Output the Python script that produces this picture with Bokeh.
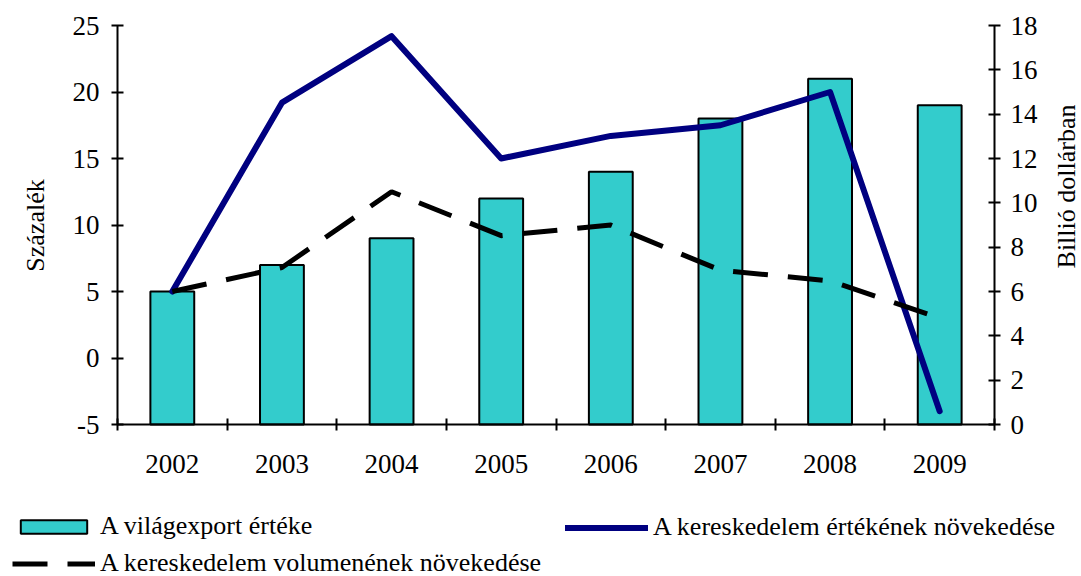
import math
from bokeh.plotting import figure
from bokeh.models import Range1d, LinearAxis, FixedTicker, Legend, LegendItem, Label
from bokeh.embed import file_html
from bokeh.resources import INLINE

# ---- data ----
years = ["2002", "2003", "2004", "2005", "2006", "2007", "2008", "2009"]
export_values = [5, 7, 9, 12, 14, 18, 21, 19]              # A világexport értéke (bars)
value_growth = [5, 19.2, 24.2, 15, 16.7, 17.5, 20, -4]      # A kereskedelem értékének növekedése
volume_growth = [5, 6.8, 12.5, 9.2, 10, 6.6, 5.8, 3]        # A kereskedelem volumenének növekedése
left_ticks = [-5, 0, 5, 10, 15, 20, 25]
right_ticks = [0, 2, 4, 6, 8, 10, 12, 14, 16, 18]
series_names = ["A világexport értéke",
                "A kereskedelem értékének növekedése",
                "A kereskedelem volumenének növekedése"]
left_title = "Százalék"
right_title = "Billió dollárban"

# ---- layout (pixels) ----
W, H = 1080, 576
PL, PR, PT, PB = 117, 994, 25, 424          # plot-area edges inside the canvas
L_MIN, L_MAX = left_ticks[0], left_ticks[-1]
R_MIN, R_MAX = right_ticks[0], right_ticks[-1]
N = len(years)

FONT = "Liberation Serif"
FS = "27px"
LFS = "26px"

xs = [i + 0.5 for i in range(N)]

# ranges extended so that the whole canvas is the frame and the axes sit at fixed places
xu = (PR - PL) / N
x_range = Range1d(0 - PL / xu, N + (W - PR) / xu)
lu = (PB - PT) / (L_MAX - L_MIN)
y_range = Range1d(L_MIN - (H - PB) / lu, L_MAX + PT / lu)
ru = (PB - PT) / (R_MAX - R_MIN)
r_range = Range1d(R_MIN - (H - PB) / ru, R_MAX + PT / ru)

p = figure(width=W, height=H, min_border=0,
           x_range=x_range, y_range=y_range,
           x_axis_type=None, y_axis_type=None,
           output_backend="svg", toolbar_location=None, tools="")
p.outline_line_color = None
p.grid.visible = False
p.extra_y_ranges = {"right": r_range}

def style_axis(ax):
    ax.axis_line_width = 2
    ax.axis_line_color = "black"
    ax.major_tick_line_width = 2
    ax.minor_tick_line_width = 2
    ax.major_tick_line_color = "black"
    ax.minor_tick_line_color = "black"
    ax.major_label_text_font = FONT
    ax.major_label_text_font_size = FS
    ax.major_label_text_color = "black"

# bottom axis: labels at category centres, ticks at boundaries
xa = LinearAxis(fixed_location=L_MIN, bounds=(0, N),
                ticker=FixedTicker(ticks=xs, minor_ticks=list(range(N + 1))))
style_axis(xa)
xa.major_label_overrides = {xv: y for xv, y in zip(xs, years)}
xa.major_tick_in = 0
xa.major_tick_out = 0
xa.minor_tick_in = 6
xa.minor_tick_out = 6
xa.major_label_standoff = 24
p.add_layout(xa, "below")

# left axis
ya = LinearAxis(fixed_location=0, bounds=(L_MIN, L_MAX), ticker=FixedTicker(ticks=left_ticks))
style_axis(ya)
ya.major_label_overrides = {t: str(t) for t in left_ticks}
ya.major_tick_in = 6
ya.major_tick_out = 6
ya.minor_tick_in = 0
ya.minor_tick_out = 0
ya.major_label_standoff = 12
p.add_layout(ya, "left")

# right axis
ra = LinearAxis(y_range_name="right", fixed_location=N, bounds=(R_MIN, R_MAX),
                ticker=FixedTicker(ticks=right_ticks))
style_axis(ra)
ra.major_tick_in = 6
ra.major_tick_out = 6
ra.minor_tick_in = 0
ra.minor_tick_out = 0
ra.major_label_standoff = 10
p.add_layout(ra, "right")

# glyphs
bars = p.vbar(x=xs, top=export_values, bottom=L_MIN, width=0.4,
              fill_color="#33CCCC", line_color="black", line_width=2)
solid = p.line(x=xs, y=value_growth, line_color="#000080", line_width=6,
               line_join="round", line_cap="round")
dashed = p.line(x=xs, y=volume_growth, line_color="black", line_width=5,
                line_dash="35 20")

# axis titles (both read bottom-to-top)
p.add_layout(Label(x=35, y=H - 225, x_units="screen", y_units="screen",
                   text=left_title, angle=90, angle_units="deg",
                   text_align="center", text_baseline="middle",
                   text_font=FONT, text_font_size=LFS, text_color="black"))
p.add_layout(Label(x=1066, y=H - 186, x_units="screen", y_units="screen",
                   text=right_title, angle=90, angle_units="deg",
                   text_align="center", text_baseline="middle",
                   text_font=FONT, text_font_size=LFS, text_color="black"))

# legends
def make_legend(items, loc):
    return Legend(items=items, location=loc, orientation="vertical",
                  label_text_font=FONT, label_text_font_size=LFS,
                  label_text_color="black",
                  glyph_width=83, glyph_height=17, label_standoff=5,
                  padding=0, margin=0, spacing=7,
                  border_line_color=None, background_fill_alpha=0)

leg_a = make_legend([LegendItem(label=series_names[0], renderers=[bars]),
                     LegendItem(label=series_names[2], renderers=[dashed])], (12, -2))
leg_b = make_legend([LegendItem(label=series_names[1], renderers=[solid])], (565, 34))
p.add_layout(leg_a, "center")
p.add_layout(leg_b, "center")

open("out.html", "w").write(file_html(p, INLINE))
